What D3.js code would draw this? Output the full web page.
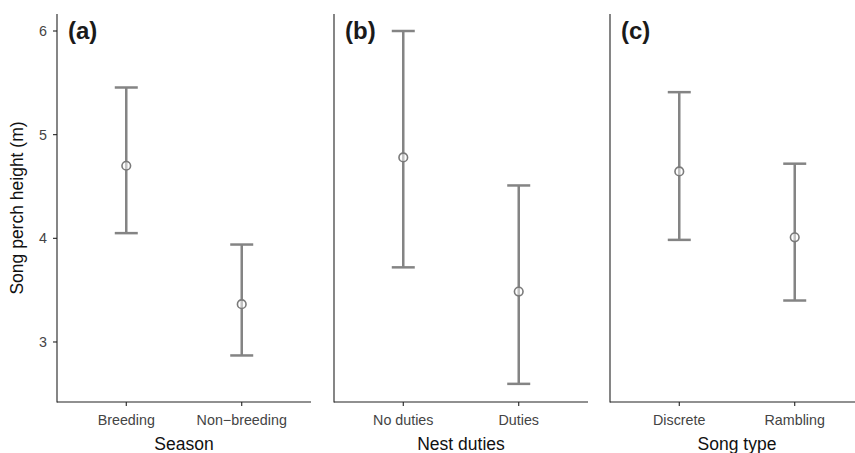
<!DOCTYPE html>
<html><head><meta charset="utf-8">
<script src="https://cdn.jsdelivr.net/npm/d3@7"></script>
<style>body{margin:0;background:#fff}svg{display:block}text{font-family:"Liberation Sans",Arial,sans-serif}</style>
</head><body>
<svg id="c" width="855" height="453"></svg>
<script>
const panelLabels = ["(a)", "(b)", "(c)"];
const xTitles = ["Season", "Nest duties", "Song type"];
const categories = [["Breeding", "Non\u2212breeding"], ["No duties", "Duties"], ["Discrete", "Rambling"]];
const means = [[4.70, 3.365], [4.78, 3.486], [4.645, 4.01]];
const lowers = [[4.05, 2.87], [3.72, 2.596], [3.985, 3.40]];
const uppers = [[5.455, 3.94], [6.00, 4.51], [5.41, 4.72]];
const yTicks = [3, 4, 5, 6];
const yTitle = "Song perch height (m)";

const svg = d3.select("#c");
const plotTop = 14, plotBottom = 402, pw = 254;
const lefts = [57, 334, 610];
const y = d3.scaleLinear().domain([2.421, 6.164]).range([plotBottom, plotTop]);
const barCol = "#848484";

panelLabels.forEach((lab, i) => {
  const L = lefts[i];
  const g = svg.append("g");
  const x = d3.scalePoint().domain(categories[i]).range([L, L + pw]).padding(0.6);
  g.append("line").attr("x1", L).attr("x2", L).attr("y1", plotTop).attr("y2", plotBottom + 0.5)
    .attr("stroke", "#222").attr("stroke-width", 1.1);
  g.append("line").attr("x1", L).attr("x2", L + pw).attr("y1", plotBottom).attr("y2", plotBottom)
    .attr("stroke", "#222").attr("stroke-width", 1.1);
  categories[i].forEach(c => {
    g.append("line").attr("x1", x(c)).attr("x2", x(c)).attr("y1", plotBottom).attr("y2", plotBottom + 4)
      .attr("stroke", "#222").attr("stroke-width", 1.1);
    g.append("text").attr("x", x(c)).attr("y", 424.5).attr("text-anchor", "middle")
      .attr("font-size", 14.3).attr("fill", "#444").text(c);
  });
  g.append("text").attr("x", L + pw / 2).attr("y", 449.5).attr("text-anchor", "middle")
    .attr("font-size", 17.5).attr("fill", "#111").text(xTitles[i]);
  if (i === 0) {
    yTicks.forEach(t => {
      g.append("line").attr("x1", L - 4).attr("x2", L).attr("y1", y(t)).attr("y2", y(t))
        .attr("stroke", "#222").attr("stroke-width", 1.1);
      g.append("text").attr("x", L - 10).attr("y", y(t) + 5).attr("text-anchor", "end")
        .attr("font-size", 14.3).attr("fill", "#444").text(t);
    });
  }
  g.append("text").attr("x", L + 11).attr("y", 39).attr("font-size", 24).attr("font-weight", "bold")
    .attr("fill", "#1a1a1a").text(lab);
  categories[i].forEach((c, j) => {
    const cx = x(c);
    g.append("line").attr("x1", cx).attr("x2", cx).attr("y1", y(uppers[i][j])).attr("y2", y(lowers[i][j]))
      .attr("stroke", barCol).attr("stroke-width", 2.5);
    [uppers[i][j], lowers[i][j]].forEach(v => {
      g.append("line").attr("x1", cx - 11.5).attr("x2", cx + 11.5).attr("y1", y(v)).attr("y2", y(v))
        .attr("stroke", barCol).attr("stroke-width", 2.5);
    });
    g.append("circle").attr("cx", cx).attr("cy", y(means[i][j])).attr("r", 4.3)
      .attr("fill", "#fff").attr("fill-opacity", 0.5).attr("stroke", "#7a7a7a").attr("stroke-width", 1.6);
  });
});

svg.append("text").attr("transform", `translate(23,${(plotTop + plotBottom) / 2}) rotate(-90)`)
  .attr("text-anchor", "middle").attr("font-size", 17.5).attr("fill", "#111").text(yTitle);
</script>
</body></html>
